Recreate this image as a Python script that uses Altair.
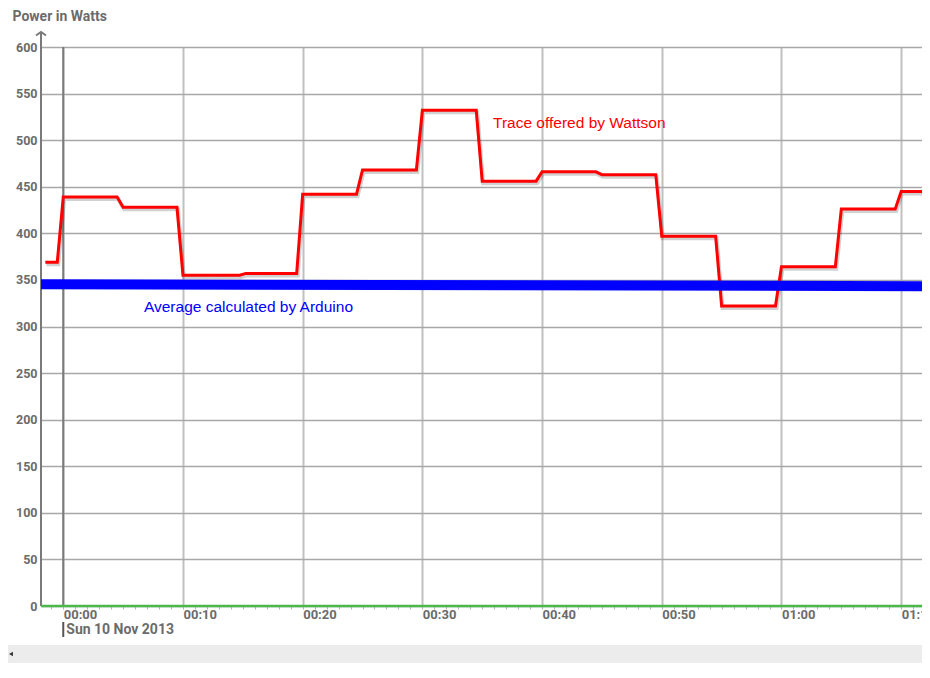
import altair as alt
import pandas as pd

# ---- data ----
red_minutes = [-1.5, -0.5, 0.0, 4.5, 5.0, 9.5, 10.0, 14.75, 15.25, 19.5, 20.0,
               24.5, 25.0, 29.5, 30.0, 34.5, 35.0, 39.5, 40.0, 44.5, 45.0,
               49.5, 50.0, 54.5, 55.0, 59.5, 60.0, 64.5, 65.0, 69.5, 70.0, 71.74]
red_watts = [369, 369, 439, 439, 428, 428, 355, 355, 357, 357, 442,
             442, 468, 468, 532, 532, 456, 456, 466, 466, 463,
             463, 397, 397, 322, 322, 364, 364, 426, 426, 445, 445]

avg_minutes = [-1.86, 71.74]
avg_watts = [345.3, 343.3]

zero_minutes = [-1.86, 71.74]
zero_watts = [0, 0]

y_ticks = list(range(0, 601, 50))
x_ticks = list(range(-1, 72))
date_label = "Sun 10 Nov 2013"
y_title = "Power in Watts"
red_label = "Trace offered by Wattson"
blue_label = "Average calculated by Arduino"

W, H = 881, 559
FONT = "Roboto, DejaVu Sans, sans-serif"
GRAY = "#6b6b6b"

red_df = pd.DataFrame({"t": red_minutes, "w": red_watts})
avg_df = pd.DataFrame({"t": avg_minutes, "w": avg_watts})
zero_df = pd.DataFrame({"t": zero_minutes, "w": zero_watts})
one_df = pd.DataFrame({"k": [0]})

xscale = alt.Scale(domain=[-1.86, 71.74], nice=False, zero=False)
yscale = alt.Scale(domain=[0, 600], nice=False)

label_expr = ("datum.value % 10 == 0 ? (format(floor(datum.value/60),'02d') + ':' + "
              "format(datum.value % 60,'02d')) : ''")

xaxis = alt.Axis(values=x_ticks, labelExpr=label_expr, title=None, domain=False,
                 labelAlign="left", labelBaseline="top", labelPadding=-1,
                 labelOverlap=False, labelFlush=False, labelFont=FONT,
                 labelFontSize=13, labelFontWeight="bold", labelColor=GRAY,
                 tickSize=3, tickColor="#b0b0b0", tickWidth=1,
                 gridColor="#c0c0c0", gridWidth=2,
                 gridOpacity={"condition": {"test": "datum.value % 10 == 0", "value": 1}, "value": 0})

yaxis = alt.Axis(values=y_ticks, title=y_title, domain=False, ticks=False,
                 labelPadding=4, labelFont=FONT, labelFontSize=12.5, labelFontWeight="bold",
                 labelColor=GRAY, gridColor="#a8a8a8", gridWidth=1.5,
                 titleAngle=0, titleX=-29, titleY=-31, titleAlign="left",
                 titleBaseline="middle", titleFont=FONT, titleFontSize=14,
                 titleFontWeight="bold", titleColor=GRAY)


def X(field="t:Q"):
    return alt.X(field, scale=xscale, axis=xaxis)


def Y(field="w:Q"):
    return alt.Y(field, scale=yscale, axis=yaxis)


def XD(v):
    return alt.datum(v, scale=xscale, axis=xaxis)


def YD(v):
    return alt.datum(v, scale=yscale, axis=yaxis)


one = alt.Chart(one_df)

grid = alt.Chart(red_df).mark_line(opacity=0).encode(x=X(), y=Y())

scroll = one.mark_rect(color="#ececec").encode(
    x=alt.value(-33), x2=alt.value(W), y=alt.value(598), y2=alt.value(616))
scroll_arrow = one.mark_point(shape="triangle-left", filled=True, color="#333",
                              size=20, opacity=1).encode(
    x=alt.value(-30), y=alt.value(607))

zero_rule = one.mark_rule(color="#7a7a7a", strokeWidth=2).encode(
    x=XD(0), y=alt.value(0), y2=alt.value(H))
yline = one.mark_rule(color="#7a7a7a", strokeWidth=2).encode(
    x=alt.value(0), y=alt.value(-15), y2=alt.value(H))
arrow = one.mark_point(shape="M-1,0.7L0,0L1,0.7", filled=False, color="#7a7a7a",
                       strokeWidth=2, size=100, opacity=1).encode(
    x=alt.value(0), y=alt.value(-15))

date_bar = one.mark_rule(color="#555", strokeWidth=2).encode(
    x=XD(0), y=alt.value(H + 16), y2=alt.value(H + 31))
date_text = one.mark_text(text=date_label, align="left", baseline="middle", dx=3,
                          font=FONT, fontSize=14, fontWeight="bold", color=GRAY).encode(
    x=XD(0), y=alt.value(H + 24))

shadow = alt.Chart(red_df).mark_line(color="#000", opacity=0.18, strokeWidth=4,
                                     xOffset=1, yOffset=2).encode(x=X(), y=Y())
red = alt.Chart(red_df).mark_line(color="#ff0000", strokeWidth=3).encode(x=X(), y=Y())
blue = alt.Chart(avg_df).mark_line(color="#0000ff", strokeWidth=10,
                                   strokeCap="butt").encode(x=X(), y=Y())
green = alt.Chart(zero_df).mark_line(color="#4cb84c", strokeWidth=2.5).encode(x=X(), y=Y())

red_text = one.mark_text(text=red_label, align="left", baseline="middle",
                         font="Liberation Sans", fontSize=15.5, fontWeight="normal",
                         color="#ff0000").encode(x=XD(35.9), y=YD(518))
blue_text = one.mark_text(text=blue_label, align="left", baseline="middle",
                          font="Liberation Sans", fontSize=15.5, fontWeight="normal",
                          color="#0000ff").encode(x=XD(6.74), y=YD(321))

chart = alt.layer(
    grid, scroll, scroll_arrow, zero_rule, yline, arrow, date_bar, date_text,
    shadow, red, blue, green, red_text, blue_text
).properties(
    width=W, height=H,
    autosize=alt.AutoSizeParams(type="none"),
    padding={"left": 33, "top": 39, "right": 0, "bottom": 57},
).configure_view(stroke=None).configure(background="white")

chart.save("out.html", embed_options={"renderer": "svg", "actions": False})
